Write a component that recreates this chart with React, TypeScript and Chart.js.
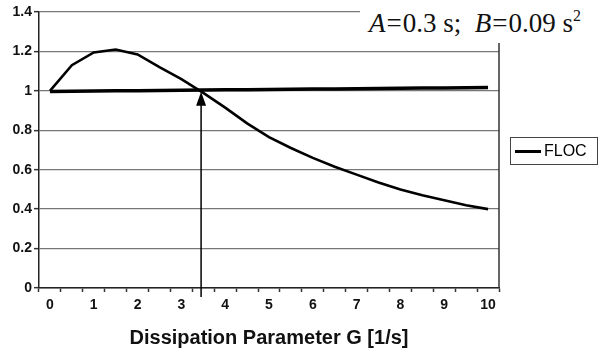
import React, { useEffect, useRef } from "react";
import { Chart, registerables } from "chart.js";

Chart.register(...registerables);

// Dissipation parameter G [1/s], sampled every 0.5
const G_LABELS = ["0", "0.5", "1", "1.5", "2", "2.5", "3", "3.5", "4", "4.5", "5", "5.5", "6", "6.5", "7", "7.5", "8", "8.5", "9", "9.5", "10"];
const G_STEP = 0.5;

// FLOC curve
const FLOC = [1.0, 1.13, 1.195, 1.21, 1.185, 1.12, 1.06, 0.99, 0.915, 0.835, 0.765, 0.71, 0.66, 0.615, 0.575, 0.535, 0.5, 0.47, 0.445, 0.42, 0.4];

// reference level (thick near-horizontal line)
const REFERENCE = [0.997, 0.998, 0.999, 1.0, 1.001, 1.002, 1.003, 1.004, 1.005, 1.006, 1.007, 1.008, 1.009, 1.01, 1.011, 1.012, 1.013, 1.014, 1.015, 1.016, 1.017];

// y ticks
const Y_MIN = 0;
const Y_MAX = 1.4;
const Y_STEP = 0.2;

// arrow marking the crossing
const ARROW_G = 3.45;
const ARROW_VALUE = 1.0;

const SANS = "'Liberation Sans', Arial, sans-serif";

const overlayPlugin = {
  id: "overlay",
  afterDatasetsDraw(chart: any) {
    const { ctx, chartArea: ca, scales } = chart;
    const x = scales.x;
    const y = scales.y;
    ctx.save();
    // right border of plot area
    ctx.strokeStyle = "#333";
    ctx.lineWidth = 1.5;
    ctx.beginPath();
    ctx.moveTo(ca.right, ca.top);
    ctx.lineTo(ca.right, ca.bottom);
    ctx.stroke();

    // arrow
    const ax = x.getPixelForValue(ARROW_G / G_STEP);
    const tipY = y.getPixelForValue(ARROW_VALUE);
    const baseY = y.getPixelForValue(0) + 9;
    ctx.strokeStyle = "#000";
    ctx.lineWidth = 1.5;
    ctx.beginPath();
    ctx.moveTo(ax, baseY);
    ctx.lineTo(ax, tipY + 10);
    ctx.stroke();
    ctx.fillStyle = "#000";
    ctx.beginPath();
    ctx.moveTo(ax, tipY + 1);
    ctx.lineTo(ax - 5, tipY + 15);
    ctx.lineTo(ax + 5, tipY + 15);
    ctx.closePath();
    ctx.fill();

    // legend
    const ds = chart.data.datasets[0];
    const lx = 510;
    const ly = 137;
    const lw = 87;
    const lh = 27;
    ctx.strokeStyle = "#444";
    ctx.lineWidth = 1;
    ctx.strokeRect(lx + 0.5, ly + 0.5, lw, lh);
    ctx.strokeStyle = ds.borderColor;
    ctx.lineWidth = 3;
    ctx.beginPath();
    ctx.moveTo(lx + 5, ly + lh / 2 + 1);
    ctx.lineTo(lx + 31, ly + lh / 2 + 1);
    ctx.stroke();
    ctx.fillStyle = "#000";
    ctx.font = `16px ${SANS}`;
    ctx.textBaseline = "middle";
    ctx.textAlign = "left";
    ctx.fillText(ds.label, lx + 34, ly + lh / 2 + 1.5);
    ctx.restore();
  },
};

export default function App() {
  const canvasRef = useRef<HTMLCanvasElement | null>(null);

  useEffect(() => {
    if (!canvasRef.current) return;
    const chart = new Chart(canvasRef.current, {
      type: "line",
      data: {
        labels: G_LABELS,
        datasets: [
          {
            label: "FLOC",
            data: FLOC,
            borderColor: "#000",
            borderWidth: 2.6,
            pointRadius: 0,
            tension: 0,
            fill: false,
          },
          {
            label: "reference",
            data: REFERENCE,
            borderColor: "#000",
            borderWidth: 3.5,
            pointRadius: 0,
            tension: 0,
            fill: false,
          },
        ],
      },
      options: {
        responsive: false,
        animation: false,
        devicePixelRatio: 1,
        layout: { padding: { left: 0, top: 12, right: 100, bottom: 0 } },
        plugins: {
          legend: { display: false },
          tooltip: { enabled: false },
          title: { display: false },
        },
        scales: {
          x: {
            type: "category",
            offset: true,
            grid: {
              offset: true,
              drawOnChartArea: false,
              drawTicks: true,
              tickLength: 4,
              tickColor: "#333",
              tickWidth: 1.5,
            },
            border: { display: true, color: "#222", width: 1.5 },
            ticks: {
              autoSkip: false,
              maxRotation: 0,
              minRotation: 0,
              padding: 5,
              color: "#111",
              font: { family: SANS, size: 14, weight: "bold" },
              callback: (_v: any, i: number) => (i % 2 === 0 ? G_LABELS[i] : ""),
            },
            title: {
              display: true,
              text: "Dissipation Parameter G [1/s]",
              color: "#111",
              font: { family: SANS, size: 20, weight: "bold" },
              padding: { top: 0, bottom: 8 },
            },
            afterFit: (s: any) => {
              s.height = 70;
            },
          },
          y: {
            min: Y_MIN,
            max: Y_MAX,
            grid: {
              color: "#777",
              lineWidth: 1.3,
              tickLength: 5,
              tickColor: "#333",
              tickWidth: 1.5,
            },
            border: { display: true, color: "#222", width: 1.5 },
            ticks: {
              stepSize: Y_STEP,
              padding: 2,
              color: "#111",
              font: { family: SANS, size: 14, weight: "bold" },
              callback: (v: any) => String(Number(Number(v).toFixed(1))),
            },
            afterFit: (s: any) => {
              s.width = 39;
            },
          },
        },
      },
      plugins: [overlayPlugin],
    });
    return () => chart.destroy();
  }, []);

  return (
    <div style={{ position: "fixed", left: 0, top: 0, width: 599, height: 358, background: "#fff" }}>
      <canvas ref={canvasRef} width={599} height={358} style={{ display: "block" }} />
      <div
        style={{
          position: "absolute",
          left: 360,
          top: 0,
          width: 239,
          height: 43,
          background: "#fff",
          fontFamily: "'Liberation Serif', 'Times New Roman', serif",
          fontSize: 27,
          lineHeight: "27px",
          color: "#111",
          boxSizing: "border-box",
          paddingTop: 10,
          paddingLeft: 9,
          whiteSpace: "nowrap",
        }}
      >
        <i>A</i>
        <span style={{ margin: "0 1px" }}>=</span>0.3 s;&nbsp; <i>B</i>
        <span style={{ margin: "0 1px" }}>=</span>0.09 s
        <sup style={{ fontSize: 16, verticalAlign: "top", lineHeight: "16px", position: "relative", top: -2 }}>2</sup>
      </div>
    </div>
  );
}
